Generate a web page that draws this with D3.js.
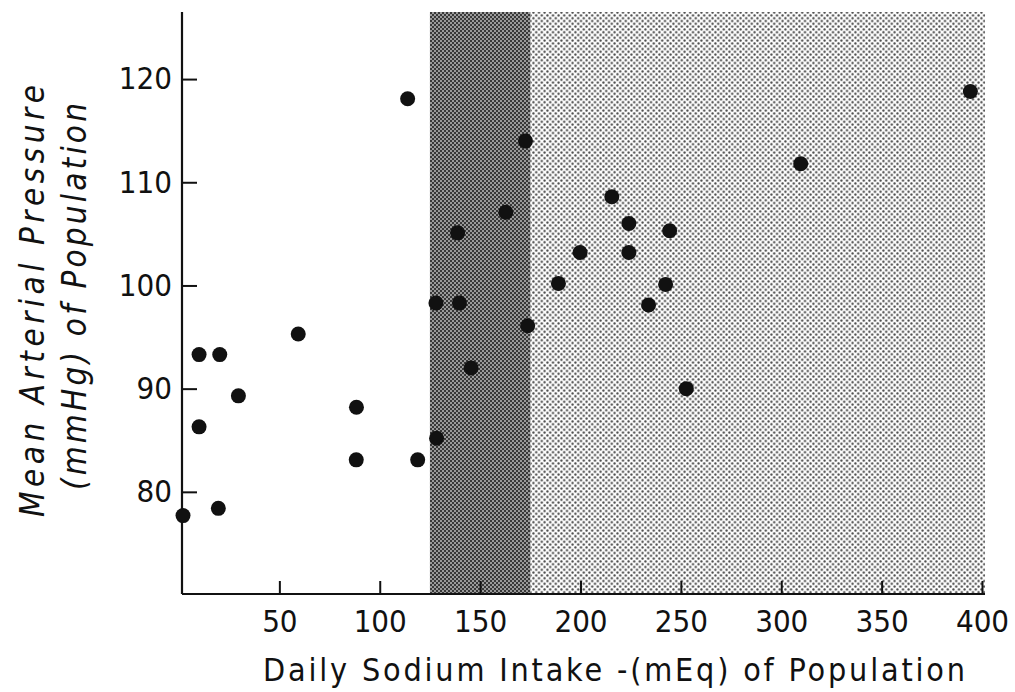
<!DOCTYPE html>
<html>
<head>
<meta charset="utf-8">
<script src="https://cdn.jsdelivr.net/npm/d3@7"></script>
<style>
  html, body { margin: 0; padding: 0; background: #fff; }
  svg { display: block; }
  .tick text, .lbl { font-family: "DejaVu Sans Condensed", "DejaVu Sans", sans-serif; fill: #111; }
</style>
</head>
<body>
<svg id="chart" width="1015" height="692"></svg>
<script>
// Daily sodium intake (mEq) vs mean arterial pressure (mmHg), one point per population.
const sodium = [2, 10, 10, 20.3, 19.6, 29.6, 59.4, 88.4, 88.3, 113.9,
  118.9, 128.3, 128.0, 139.7, 138.8, 145.5, 162.8, 172.6, 173.7, 189.0,
  199.8, 215.6, 224.1, 224.1, 244.4, 242.4, 233.9, 252.7, 309.7, 394.2];
const pressure = [77.7, 93.3, 86.3, 93.3, 78.4, 89.3, 95.3, 88.2, 83.1, 118.1,
  83.1, 85.2, 98.3, 98.3, 105.1, 92.0, 107.1, 114.0, 96.1, 100.2,
  103.2, 108.6, 106.0, 103.2, 105.3, 100.1, 98.1, 90.0, 111.8, 118.8];

// Shaded intake bands: [from, to] in mEq
const bandDark = [125, 175];
const bandLight = [175, 401.5];

const xTicks = [50, 100, 150, 200, 250, 300, 350, 400];
const yTicks = [80, 90, 100, 110, 120];

const svg = d3.select("#chart");

const x = d3.scaleLinear().domain([1.5, 400]).range([182, 982]);
const y = d3.scaleLinear().domain([70.1, 126.5]).range([594, 12]);

// halftone patterns
const defs = svg.append("defs");
const pd = defs.append("pattern").attr("id", "dark")
  .attr("patternUnits", "userSpaceOnUse").attr("width", 4).attr("height", 4);
pd.append("rect").attr("width", 4).attr("height", 4).attr("fill", "#383838");
pd.append("circle").attr("cx", 1).attr("cy", 1).attr("r", 0.95).attr("fill", "#c4c4c4");
pd.append("circle").attr("cx", 3).attr("cy", 3).attr("r", 0.95).attr("fill", "#c4c4c4");

const pl = defs.append("pattern").attr("id", "light")
  .attr("patternUnits", "userSpaceOnUse").attr("width", 5.6).attr("height", 5.6);
pl.append("rect").attr("width", 5.6).attr("height", 5.6).attr("fill", "#fdfdfd");
pl.append("circle").attr("cx", 1.4).attr("cy", 1.4).attr("r", 1.15).attr("fill", "#444");
pl.append("circle").attr("cx", 4.2).attr("cy", 4.2).attr("r", 1.15).attr("fill", "#444");

svg.append("rect")
  .attr("x", x(bandLight[0])).attr("y", y.range()[1])
  .attr("width", x(bandLight[1]) - x(bandLight[0]))
  .attr("height", y.range()[0] - y.range()[1])
  .attr("fill", "url(#light)");
svg.append("rect")
  .attr("x", x(bandDark[0])).attr("y", y.range()[1])
  .attr("width", x(bandDark[1]) - x(bandDark[0]))
  .attr("height", y.range()[0] - y.range()[1])
  .attr("fill", "url(#dark)");

// axes
const xAxis = svg.append("g")
  .attr("transform", `translate(0,${y.range()[0]})`)
  .call(d3.axisBottom(x).tickValues(xTicks).tickSizeInner(-13).tickSizeOuter(0).tickPadding(16));
const yAxis = svg.append("g")
  .attr("transform", `translate(${x.range()[0]},0)`)
  .call(d3.axisLeft(y).tickValues(yTicks).tickSizeInner(-15).tickSizeOuter(0).tickPadding(10));

[xAxis, yAxis].forEach(a => {
  a.select(".domain").remove();
  a.selectAll(".tick line").attr("stroke", "#111").attr("stroke-width", 2);
  a.selectAll(".tick text").attr("font-size", 31).attr("fill", "#111");
});

svg.append("line")
  .attr("x1", x.range()[0]).attr("x2", x(bandLight[1]))
  .attr("y1", y.range()[0]).attr("y2", y.range()[0])
  .attr("stroke", "#111").attr("stroke-width", 2.2);
svg.append("line")
  .attr("x1", x.range()[0]).attr("x2", x.range()[0])
  .attr("y1", y.range()[1]).attr("y2", y.range()[0])
  .attr("stroke", "#111").attr("stroke-width", 2.2);

// points
svg.append("g").selectAll("circle")
  .data(sodium.map((s, i) => [s, pressure[i]]))
  .join("circle")
  .attr("cx", d => x(d[0]))
  .attr("cy", d => y(d[1]))
  .attr("r", 7.5)
  .attr("fill", "#111");

// axis titles
svg.append("text").attr("class", "lbl")
  .attr("x", 263).attr("y", 681)
  .attr("font-size", 32)
  .attr("textLength", 702).attr("lengthAdjust", "spacing")
  .text("Daily Sodium Intake -(mEq) of Population");

svg.append("text").attr("class", "lbl")
  .attr("transform", "translate(44,517) rotate(-90)")
  .attr("font-size", 33).attr("font-style", "italic")
  .attr("textLength", 432).attr("lengthAdjust", "spacing")
  .text("Mean Arterial Pressure");

svg.append("text").attr("class", "lbl")
  .attr("transform", "translate(86,490) rotate(-90)")
  .attr("font-size", 33).attr("font-style", "italic")
  .attr("textLength", 387).attr("lengthAdjust", "spacing")
  .text("(mmHg) of Population");
</script>
</body>
</html>
